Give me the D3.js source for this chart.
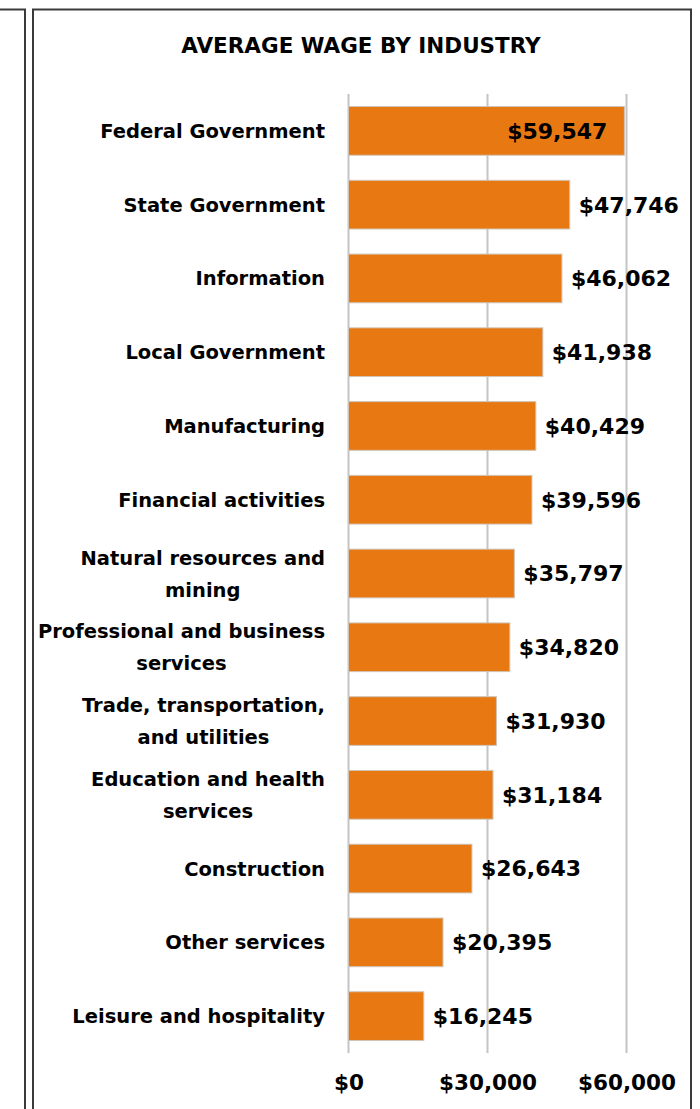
<!DOCTYPE html>
<html>
<head>
<meta charset="utf-8">
<script src="https://cdn.jsdelivr.net/npm/d3@7"></script>
<style>
  html, body { margin: 0; padding: 0; background: #fff; }
  svg { display: block; }
  text { font-family: "DejaVu Sans", sans-serif; font-weight: bold; fill: #000; }
</style>
</head>
<body>
<svg id="chart" width="700" height="1109"></svg>
<script>
// Industries, top to bottom (line breaks mark wrapped category labels)
const categories = [
  "Federal Government",
  "State Government",
  "Information",
  "Local Government",
  "Manufacturing",
  "Financial activities",
  "Natural resources and\nmining",
  "Professional and business\nservices",
  "Trade, transportation,\nand utilities",
  "Education and health\nservices",
  "Construction",
  "Other services",
  "Leisure and hospitality"
];

// Average annual wage, dollars
const wages = [59547, 47746, 46062, 41938, 40429, 39596, 35797, 34820, 31930, 31184, 26643, 20395, 16245];

// Horizontal axis ticks
const tickValues = [0, 30000, 60000];

const title = "AVERAGE WAGE BY INDUSTRY";

const data = categories.map((c, i) => ({ category: c, value: wages[i] }));

const svg = d3.select("#chart");
const W = 700, H = 1109;

// Frame lines
const frame = svg.append("g")
  .attr("fill", "none")
  .attr("stroke", "#3a3a3a")
  .attr("stroke-width", 2);
frame.append("path").attr("d", `M0,9.5 H25 V${H}`);
frame.append("path").attr("d", `M33,${H} V9.5 H691 V${H}`);

const x = d3.scaleLinear().domain([0, 60000]).range([348.5, 626.5]);
const y = d3.scaleBand()
  .domain(categories)
  .range([94, 1053])
  .paddingInner(0.34)
  .paddingOuter(0.17);

// Title
svg.append("text")
  .attr("x", 361)
  .attr("y", 53)
  .attr("text-anchor", "middle")
  .attr("font-size", 21.5)
  .text(title);

// Vertical gridlines
svg.append("g")
  .selectAll("line")
  .data(tickValues)
  .join("line")
  .attr("x1", d => x(d))
  .attr("x2", d => x(d))
  .attr("y1", 94)
  .attr("y2", 1053)
  .attr("stroke", "#c4c4c4")
  .attr("stroke-width", 2);

// Bars
svg.append("g")
  .selectAll("rect")
  .data(data)
  .join("rect")
  .attr("x", x(0))
  .attr("y", d => y(d.category))
  .attr("width", d => x(d.value) - x(0))
  .attr("height", y.bandwidth())
  .attr("fill", "#e77812")
  .attr("stroke", "#d0c4b8")
  .attr("stroke-width", 1);

// Value labels: the largest value sits inside its bar, the rest just past the bar end
const fmt = d3.format("$,.0f");
const maxVal = d3.max(wages);
svg.append("g")
  .selectAll("text")
  .data(data)
  .join("text")
  .attr("x", d => d.value === maxVal ? x(d.value) - 17 : x(d.value) + 9)
  .attr("y", d => y(d.category) + y.bandwidth() / 2)
  .attr("dy", "0.36em")
  .attr("text-anchor", d => d.value === maxVal ? "end" : "start")
  .attr("font-size", 22)
  .text(d => fmt(d.value));

// Horizontal axis tick labels
const xAxis = svg.append("g")
  .attr("transform", "translate(0,1053)")
  .call(d3.axisBottom(x).tickValues(tickValues).tickFormat(fmt).tickSize(0).tickPadding(22));
xAxis.select(".domain").remove();
xAxis.selectAll("text")
  .attr("font-family", "DejaVu Sans, sans-serif")
  .attr("font-weight", "bold")
  .attr("font-size", 21.5)
  .attr("fill", "#000");

// Category labels, right-aligned; wrapped labels are centred line by line
const labelRight = 325;
const lineGap = 32;
const labels = svg.append("g").attr("font-size", 19.5);
data.forEach(d => {
  const lines = d.category.split("\n");
  const cy = y(d.category) + y.bandwidth() / 2;
  if (lines.length === 1) {
    labels.append("text")
      .attr("x", labelRight)
      .attr("y", cy)
      .attr("dy", "0.36em")
      .attr("text-anchor", "end")
      .text(lines[0]);
  } else {
    const group = labels.append("g");
    const texts = lines.map((ln, i) => group.append("text")
      .attr("y", cy + (i - (lines.length - 1) / 2) * lineGap)
      .attr("dy", "0.36em")
      .attr("text-anchor", "middle")
      .text(ln));
    const maxW = d3.max(texts, t => t.node().getComputedTextLength());
    texts.forEach(t => t.attr("x", labelRight - maxW / 2));
  }
});
</script>
</body>
</html>
